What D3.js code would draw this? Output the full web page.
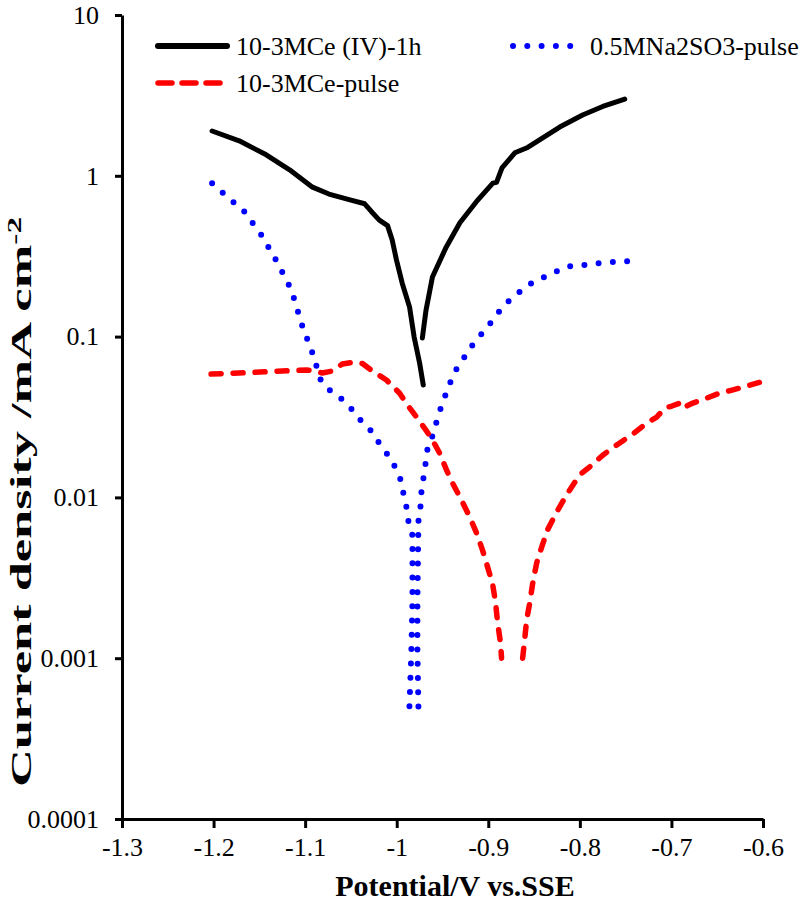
<!DOCTYPE html>
<html>
<head>
<meta charset="utf-8">
<script src="https://cdn.jsdelivr.net/npm/d3@7/dist/d3.min.js"></script>
<style>
  html, body { margin: 0; padding: 0; background: #fff; }
  svg { display: block; }
  text { font-family: "Liberation Serif", "Times New Roman", serif; fill: #000; }
</style>
</head>
<body>
<svg id="chart" width="804" height="901"></svg>
<script>
// ---- data ----
const xTickValues = [-1.3, -1.2, -1.1, -1.0, -0.9, -0.8, -0.7, -0.6];
const xTickLabels = ["-1.3", "-1.2", "-1.1", "-1", "-0.9", "-0.8", "-0.7", "-0.6"];
const yTickValues = [0.0001, 0.001, 0.01, 0.1, 1, 10];
const yTickLabels = ["0.0001", "0.001", "0.01", "0.1", "1", "10"];

const seriesNames = ["10-3MCe (IV)-1h", "0.5MNa2SO3-pulse", "10-3MCe-pulse"];

// 10-3MCe (IV)-1h : potential (V vs SSE), current density (mA cm-2); null = break between cathodic and anodic branch
const ceIV_E = [-1.2016, -1.172, -1.1425, -1.117, -1.092, -1.074, -1.052, -1.035, -1.0277, -1.019, -1.010, -1.005, -1.0003, -0.994, -0.986, -0.981, -0.975, -0.971, null,
                -0.972, -0.968, -0.961, -0.946, -0.931, -0.913, -0.895, -0.891, -0.885, -0.871, -0.857, -0.844, -0.822, -0.797, -0.775, -0.751];
const ceIV_I = [1.90, 1.65, 1.35, 1.09, 0.85, 0.77, 0.71, 0.67, 0.60, 0.53, 0.49, 0.40, 0.30, 0.215, 0.153, 0.0995, 0.0685, 0.050, null,
                0.098, 0.146, 0.235, 0.36, 0.51, 0.69, 0.90, 0.91, 1.12, 1.39, 1.50, 1.67, 2.01, 2.39, 2.70, 3.0];

// 0.5MNa2SO3-pulse
const na_E = [-1.2016, -1.1895, -1.1666, -1.148, -1.1305, -1.115, -1.103, -1.092, -1.083, -1.0736, -1.0605, -1.0495, -1.0397, -1.0288, -1.020, -1.0112, -1.0025, -0.996, -0.9927, -0.9894, -0.9872, -0.9828, -0.9828, -0.984, -0.9861, null,
              -0.9763, -0.9774, -0.9774, -0.9763, -0.9741, -0.973, -0.9708, -0.9686, -0.9664, -0.961, -0.9566, -0.9522, -0.9467, -0.9413, -0.9347, -0.926, -0.9172, -0.9074, -0.8975, -0.8877, -0.8778, -0.8647, -0.8527, -0.8384, -0.8242, -0.81, -0.7936, -0.7783, -0.763, -0.7466];
const na_I = [0.90, 0.78, 0.60, 0.43, 0.29, 0.195, 0.116, 0.079, 0.0537, 0.0466, 0.041, 0.0355, 0.0303, 0.0262, 0.0221, 0.0189, 0.0157, 0.0130, 0.0106, 0.0087, 0.0071, 0.0058, 0.0023, 0.00112, 0.0005, null,
              0.0005, 0.00112, 0.0023, 0.0071, 0.0087, 0.0108, 0.0132, 0.0161, 0.020, 0.0241, 0.0294, 0.0355, 0.0434, 0.0522, 0.0629, 0.0747, 0.0887, 0.1038, 0.1216, 0.144, 0.166, 0.192, 0.215, 0.235, 0.256, 0.275, 0.279, 0.287, 0.291, 0.295];

// 10-3MCe-pulse
const cep_E = [-1.2027, -1.172, -1.125, -1.0988, -1.09, -1.0813, -1.0703, -1.0594, -1.0463, -1.0375, -1.0266, -1.0112, -0.997, -0.9883, -0.9784, -0.9697, -0.961, -0.9533, -0.9456, -0.9391, -0.9292, -0.9205, -0.9128, -0.9063, -0.9008, -0.8953, -0.892, -0.8898, -0.8866, -0.8855, null,
               -0.8625, -0.8603, -0.8581, -0.8548, -0.8516, -0.8472, -0.8417, -0.8352, -0.8253, -0.8144, -0.8002, -0.7892, -0.775, -0.7597, -0.7433, -0.7269, -0.716, -0.7072, -0.6995, -0.6908, -0.6875, -0.6766, -0.6613, -0.6471, -0.6328, -0.6175, -0.6022];
const cep_I = [0.0585, 0.0594, 0.0611, 0.062, 0.0611, 0.0594, 0.0611, 0.0676, 0.0695, 0.068, 0.0611, 0.0537, 0.0446, 0.0376, 0.0316, 0.027, 0.0228, 0.0189, 0.0148, 0.0123, 0.0096, 0.0076, 0.006, 0.0047, 0.0037, 0.0029, 0.0022, 0.00166, 0.00124, 0.001, null,
               0.001, 0.0013, 0.00173, 0.0022, 0.0029, 0.0039, 0.0049, 0.0063, 0.0081, 0.0104, 0.0138, 0.0155, 0.0183, 0.0212, 0.0245, 0.029, 0.0316, 0.036, 0.037, 0.0386, 0.036, 0.0386, 0.0415, 0.0446, 0.0466, 0.0493, 0.0522];

// ---- chart ----
const svg = d3.select("#chart");
const pLeft = 122, pRight = 763, pTop = 15, pBottom = 819;

const x = d3.scaleLinear().domain([-1.3, -0.6]).range([pLeft, pRight]);
const y = d3.scaleLog().domain([0.0001, 10]).range([pBottom, pTop]);

const zip = (E, I) => E.map((e, i) => [e, I[i]]);
const line = d3.line()
  .defined(d => d[0] != null && d[1] != null)
  .x(d => x(d[0])).y(d => y(d[1]));

const series = [
  { name: seriesNames[0], data: zip(ceIV_E, ceIV_I), color: "#000000", width: 5, dash: null, cap: "round" },
  { name: seriesNames[1], data: zip(na_E, na_I), color: "#0000ff", width: 6, dash: "0,14.3", cap: "round" },
  { name: seriesNames[2], data: zip(cep_E, cep_I), color: "#ff0000", width: 5.5, dash: "10,12", cap: "round" }
];

// draw order: blue, red, black
[series[1], series[2], series[0]].forEach(s => {
  svg.append("path")
    .datum(s.data)
    .attr("d", line)
    .attr("fill", "none")
    .attr("stroke", s.color)
    .attr("stroke-width", s.width)
    .attr("stroke-linecap", s.cap)
    .attr("stroke-linejoin", "round")
    .attr("stroke-dasharray", s.dash);
});

// axes
const xAxis = d3.axisBottom(x).tickValues(xTickValues)
  .tickFormat((d, i) => xTickLabels[i]).tickSizeInner(9).tickSizeOuter(0).tickPadding(10);
const yAxis = d3.axisLeft(y).tickValues(yTickValues)
  .tickFormat((d, i) => yTickLabels[i]).tickSizeInner(7).tickSizeOuter(0).tickPadding(16);

const gx = svg.append("g").attr("transform", `translate(0,${pBottom})`).call(xAxis);
const gy = svg.append("g").attr("transform", `translate(${pLeft},0)`).call(yAxis);

[gx, gy].forEach(g => {
  g.attr("font-family", null).attr("font-size", null);
  g.select(".domain").attr("stroke", "#000").attr("stroke-width", 3);
  g.selectAll(".tick line").attr("stroke", "#000").attr("stroke-width", 3);
  g.selectAll(".tick text").style("font-family", "'Liberation Serif', 'Times New Roman', serif")
    .style("font-size", "26px").attr("fill", "#000");
});

// axis titles
svg.append("text")
  .attr("x", 455).attr("y", 896)
  .attr("text-anchor", "middle")
  .style("font-size", "30px").attr("font-weight", "bold")
  .text("Potential/V vs.SSE");

const yt = svg.append("text")
  .attr("transform", `translate(31,502) rotate(-90)`)
  .attr("text-anchor", "middle")
  .attr("textLength", 570).attr("lengthAdjust", "spacingAndGlyphs")
  .style("font-size", "30px").attr("font-weight", "bold");
yt.append("tspan").text("Current density /mA cm");
yt.append("tspan").attr("baseline-shift", "super").style("font-size", "19px").text("-2");

// legend
const legendItems = [
  { s: series[0], x: 158, y: 46 },
  { s: series[1], x: 513, y: 46 },
  { s: series[2], x: 158, y: 83 }
];
legendItems.forEach(li => {
  const len = li.s === series[1] ? 60 : 69;
  svg.append("line")
    .attr("x1", li.x).attr("x2", li.x + len)
    .attr("y1", li.y).attr("y2", li.y)
    .attr("stroke", li.s.color)
    .attr("stroke-width", li.s === series[0] ? 6 : li.s.width)
    .attr("stroke-linecap", li.s.cap)
    .attr("stroke-dasharray", li.s === series[2] ? "14,10" : li.s.dash);
  svg.append("text")
    .attr("x", li.x + len + (li.s === series[1] ? 17 : 9))
    .attr("y", li.y + 9)
    .style("font-size", "26px")
    .text(li.s.name);
});
</script>
</body>
</html>
